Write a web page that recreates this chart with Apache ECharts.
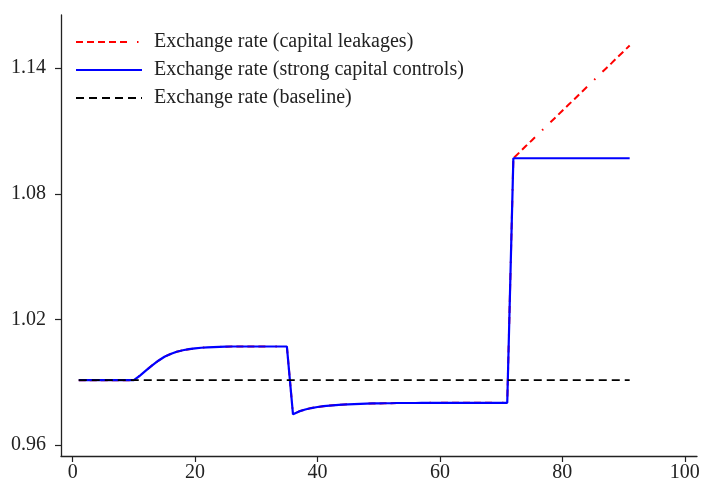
<!DOCTYPE html>
<html>
<head>
<meta charset="utf-8">
<script src="https://cdn.jsdelivr.net/npm/echarts@6/dist/echarts.min.js"></script>
<style>
html,body{margin:0;padding:0;background:#fff;}
#chart{width:703px;height:483px;}
</style>
</head>
<body>
<div id="chart"></div>
<script>
// Periods (x values)
var periods = [1,2,3,4,5,6,7,8,9,10,11,12,13,14,15,16,17,18,19,20,21,22,23,24,25,26,27,28,29,30,
  31,32,33,34,35,36,37,38,39,40,41,42,43,44,45,46,47,48,49,50,51,52,53,54,55,56,57,58,59,60,
  61,62,63,64,65,66,67,68,69,70,71,72,73,74,75,76,77,78,79,80,81,82,83,84,85,86,87,88,89,90,91];

// Exchange rate (strong capital controls)
var strongControls = [
  0.991,0.991,0.991,0.991,0.991,0.991,0.991,0.991,0.991,0.991,
  0.9932,0.9957,0.9981,1.0003,1.0022,1.0035,1.0046,1.0053,1.0058,1.0062,
  1.0065,1.0067,1.0068,1.0069,1.0070,
  1.0071,1.0071,1.0071,1.0071,1.0071,1.0071,1.0071,1.0071,1.0071,1.0071,
  0.9747,0.9761,0.9770,0.9777,0.9782,0.9786,0.9789,0.9791,0.9793,0.9795,
  0.9796,0.9797,0.9798,0.9799,0.9799,0.9800,0.9800,0.9801,0.9801,0.9801,
  0.9801,0.9802,0.9802,0.9802,0.9802,0.9802,0.9802,0.9802,0.9802,0.9802,
  0.9802,0.9802,0.9802,0.9802,0.9802,0.9802,
  1.097,1.097,1.097,1.097,1.097,1.097,1.097,1.097,1.097,1.097,
  1.097,1.097,1.097,1.097,1.097,1.097,1.097,1.097,1.097,1.097
];

// Exchange rate (capital leakages)
var capitalLeakages = [
  0.991,0.991,0.991,0.991,0.991,0.991,0.991,0.991,0.991,0.991,
  0.9932,0.9957,0.9981,1.0003,1.0022,1.0035,1.0046,1.0053,1.0058,1.0062,
  1.0065,1.0067,1.0068,1.0069,1.0070,
  1.0071,1.0071,1.0071,1.0071,1.0071,1.0071,1.0071,1.0071,1.0071,1.0071,
  0.9747,0.9761,0.9770,0.9777,0.9782,0.9786,0.9789,0.9791,0.9793,0.9795,
  0.9796,0.9797,0.9798,0.9799,0.9799,0.9800,0.9800,0.9801,0.9801,0.9801,
  0.9801,0.9802,0.9802,0.9802,0.9802,0.9802,0.9802,0.9802,0.9802,0.9802,
  0.9802,0.9802,0.9802,0.9802,0.9802,0.9802,
  1.0970,1.0998,1.1027,1.1055,1.1083,1.1112,1.1140,1.1168,1.1197,1.1225,
  1.1253,1.1282,1.1310,1.1338,1.1367,1.1395,1.1423,1.1452,1.1480,1.1508
];

// Exchange rate (baseline)
var baseline = [
  0.991,0.991,0.991,0.991,0.991,0.991,0.991,0.991,0.991,0.991,
  0.991,0.991,0.991,0.991,0.991,0.991,0.991,0.991,0.991,0.991,
  0.991,0.991,0.991,0.991,0.991,0.991,0.991,0.991,0.991,0.991,
  0.991,0.991,0.991,0.991,0.991,0.991,0.991,0.991,0.991,0.991,
  0.991,0.991,0.991,0.991,0.991,0.991,0.991,0.991,0.991,0.991,
  0.991,0.991,0.991,0.991,0.991,0.991,0.991,0.991,0.991,0.991,
  0.991,0.991,0.991,0.991,0.991,0.991,0.991,0.991,0.991,0.991,
  0.991,0.991,0.991,0.991,0.991,0.991,0.991,0.991,0.991,0.991,
  0.991,0.991,0.991,0.991,0.991,0.991,0.991,0.991,0.991,0.991,0.991
];

var xTicks = [0, 20, 40, 60, 80, 100];
var yTicks = [0.96, 1.02, 1.08, 1.14];

var seriesNames = [
  'Exchange rate (capital leakages)',
  'Exchange rate (strong capital controls)',
  'Exchange rate (baseline)'
];

function pairs(ys) {
  return periods.map(function (x, i) { return [x, ys[i]]; });
}

var FONT = '"Liberation Serif", "DejaVu Serif", serif';
var TXT = '#222';
var FS = 20;

var chart = echarts.init(document.getElementById('chart'), null, {renderer: 'canvas'});
chart.setOption({
  animation: false,
  backgroundColor: '#fff',
  grid: {left: 61, right: 6, top: 15, bottom: 26, containLabel: false},
  legend: {
    orient: 'vertical',
    left: 75,
    top: 32,
    padding: 0,
    itemWidth: 66,
    itemHeight: 14,
    itemGap: 8,
    itemStyle: {opacity: 0},
    textStyle: {fontFamily: FONT, fontSize: FS, lineHeight: 20, color: TXT, padding: [0, 0, 0, 7]},
    data: seriesNames
  },
  xAxis: {
    type: 'value',
    min: -1.9,
    max: 102,
    splitLine: {show: false},
    axisLine: {show: true, onZero: false, lineStyle: {color: TXT, width: 1.3}},
    axisTick: {show: true, length: 6, customValues: xTicks, lineStyle: {color: TXT, width: 1.2}},
    axisLabel: {customValues: xTicks, margin: 7, fontFamily: FONT, fontSize: FS, color: TXT}
  },
  yAxis: {
    type: 'value',
    min: 0.9548,
    max: 1.1654,
    splitLine: {show: false},
    axisLine: {show: true, onZero: false, lineStyle: {color: TXT, width: 1.3}},
    axisTick: {show: true, length: 6, customValues: yTicks, lineStyle: {color: TXT, width: 1.2}},
    axisLabel: {
      customValues: yTicks, margin: 15, fontFamily: FONT, fontSize: FS, color: TXT,
      formatter: function (v) { return v.toFixed(2); }
    }
  },
  series: [
    {
      name: seriesNames[0], type: 'line', data: pairs(capitalLeakages),
      showSymbol: false, symbol: 'none', smooth: false,
      lineStyle: {color: '#ff0000', width: 2, type: [7, 4, 7, 4, 7, 4, 7, 4, 7, 10, 1.5, 10]},
      itemStyle: {color: '#ff0000'}
    },
    {
      name: seriesNames[1], type: 'line', data: pairs(strongControls),
      showSymbol: false, symbol: 'none', smooth: false,
      lineStyle: {color: '#0000ff', width: 2.2, type: 'solid'},
      itemStyle: {color: '#0000ff'}
    },
    {
      name: seriesNames[2], type: 'line', data: pairs(baseline),
      showSymbol: false, symbol: 'none', smooth: false,
      lineStyle: {color: '#000000', width: 1.8, type: [8, 5]},
      itemStyle: {color: '#000000'}
    }
  ]
});
</script>
</body>
</html>
